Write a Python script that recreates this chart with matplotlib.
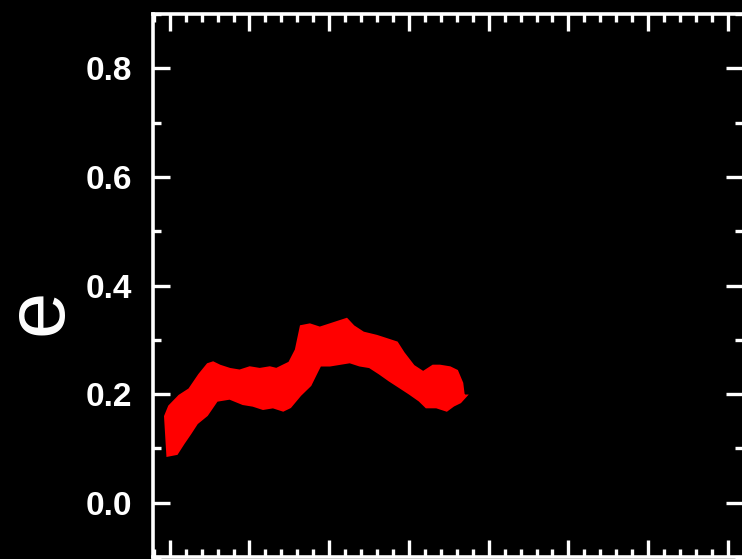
import numpy as np
import matplotlib
matplotlib.use("Agg")
import matplotlib.pyplot as plt
from matplotlib.ticker import MultipleLocator

# Upper and lower edges of the e band (x in plot units)
x_upper = [-0.050, 0.000, 0.125, 0.251, 0.376, 0.481, 0.543, 0.627, 0.753, 0.878,
           1.004, 1.129, 1.255, 1.339, 1.422, 1.506, 1.590, 1.652, 1.757, 1.882,
           2.008, 2.133, 2.217, 2.300, 2.425, 2.593, 2.719, 2.844, 2.927, 3.053,
           3.178, 3.304, 3.388, 3.513, 3.597, 3.660, 3.680]
e_upper = [0.159, 0.177, 0.196, 0.208, 0.235, 0.254, 0.257, 0.251, 0.245, 0.242,
           0.248, 0.245, 0.248, 0.245, 0.251, 0.257, 0.281, 0.324, 0.327, 0.321,
           0.327, 0.333, 0.337, 0.324, 0.312, 0.306, 0.300, 0.294, 0.275, 0.251,
           0.239, 0.251, 0.251, 0.248, 0.242, 0.220, 0.196]

x_lower = [-0.021, 0.084, 0.167, 0.251, 0.335, 0.460, 0.586, 0.753, 0.920, 1.045,
           1.171, 1.296, 1.422, 1.506, 1.631, 1.757, 1.841, 1.882, 2.008, 2.133,
           2.259, 2.384, 2.509, 2.635, 2.760, 2.886, 3.011, 3.137, 3.221, 3.346,
           3.472, 3.555, 3.639, 3.701]
e_lower = [0.088, 0.091, 0.110, 0.128, 0.147, 0.162, 0.189, 0.193, 0.183, 0.180,
           0.174, 0.177, 0.171, 0.177, 0.199, 0.217, 0.242, 0.254, 0.254, 0.257,
           0.260, 0.254, 0.251, 0.239, 0.226, 0.214, 0.202, 0.189, 0.177, 0.177,
           0.171, 0.180, 0.186, 0.196]

y_ticks = [0.0, 0.2, 0.4, 0.6, 0.8]
y_ticklabels = ["0.0", "0.2", "0.4", "0.6", "0.8"]

fig = plt.figure(figsize=(7.42, 5.59), dpi=100, facecolor="black")
ax = fig.add_axes([153 / 742, 2 / 559, 590 / 742, 543 / 559], facecolor="black")

# band of points drawn as a filled outline
ax.fill(np.r_[x_upper, x_lower[::-1]], np.r_[e_upper, e_lower[::-1]],
        color="#ff0000", edgecolor="#ff0000", linewidth=2.5)

ax.set_xlim(-0.21, 7.19)
ax.set_ylim(-0.1, 0.9)
ax.xaxis.set_major_locator(MultipleLocator(1.0))
ax.xaxis.set_minor_locator(MultipleLocator(0.2))
ax.set_yticks(y_ticks)
ax.set_yticklabels(y_ticklabels)
ax.yaxis.set_minor_locator(MultipleLocator(0.1))

for side in ax.spines.values():
    side.set_color("white")
    side.set_linewidth(2.6)

ax.tick_params(which="both", direction="in", colors="white", width=2.4,
               top=True, right=True, labelbottom=False)
ax.tick_params(which="major", length=12)
ax.tick_params(which="minor", length=5.5)
ax.tick_params(axis="y", pad=15)

for lab in ax.get_yticklabels():
    lab.set_fontfamily(["Liberation Sans", "DejaVu Sans"])
    lab.set_fontweight("bold")
    lab.set_fontsize(24)
    lab.set_color("white")

ax.set_ylabel("e", color="white", fontsize=60, va="center",
              family=["Liberation Sans", "DejaVu Sans"])
ax.yaxis.set_label_coords(-0.193, 0.451)

fig.savefig("out.png", dpi=100, facecolor="black")
